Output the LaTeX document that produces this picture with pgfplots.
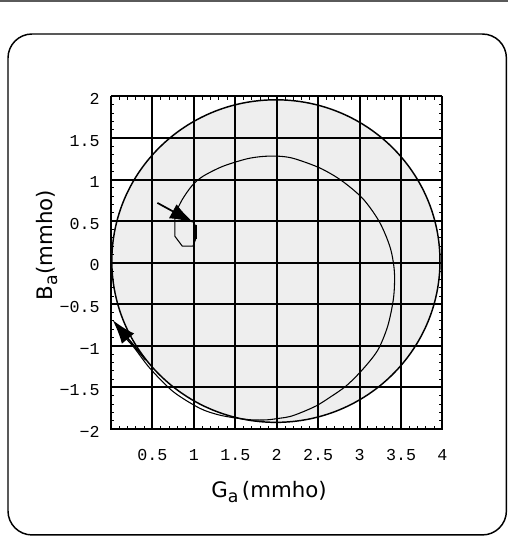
\documentclass[border=0pt]{standalone}
\usepackage{pgfplots}
\pgfplotsset{compat=1.18}
\usepackage{fontspec}
\setmainfont{DejaVu Sans}
\newfontfamily\monofont{Liberation Mono}
\usetikzlibrary{arrows.meta}

\definecolor{diskgray}{RGB}{238,238,238}
\definecolor{rulegray}{RGB}{90,90,90}

% admittance locus G_a + j B_a (mmho), outer sweep
\pgfplotstableread{
G     B
0.12 -0.85
0.27 -1.01
0.47 -1.27
0.75 -1.55
1.07 -1.75
1.30 -1.83
1.52 -1.87
1.70 -1.89
1.88 -1.89
2.04 -1.87
2.16 -1.85
2.30 -1.80
2.48 -1.72
2.64 -1.62
2.84 -1.48
3.04 -1.28
3.22 -1.05
3.34 -0.76
3.41 -0.42
3.42 -0.11
3.37  0.18
3.24  0.49
3.04  0.77
2.78  0.99
2.52  1.14
2.22  1.25
2.05  1.28
1.85  1.28
1.64  1.25
1.35  1.16
1.11  1.04
0.98  0.93
0.86  0.76
0.77  0.58
}\locus
% small closing loop
\pgfplotstableread{
G     B
0.77  0.58
0.77  0.32
0.86  0.20
0.99  0.20
1.02  0.28
1.02  0.46
}\loop

\begin{document}
\begin{tikzpicture}
\useasboundingbox (0,0) rectangle (381pt,-402.75pt);
% page rule and rounded frame
\draw[rulegray, line width=1.5pt] (0,-1.1pt) -- (381pt,-1.1pt);
\draw[black, line width=1.1pt, rounded corners=18pt] (6pt,-25.5pt) rectangle (379.8pt,-401.2pt);

\begin{axis}[
  at={(83.25pt,-321.75pt)}, anchor=south west,
  scale only axis, width=248.6pt, height=249.4pt,
  xmin=0, xmax=4, ymin=-2, ymax=2,
  axis on top,
  xtick={0,0.5,...,4},
  xticklabels={,0.5,1,1.5,2,2.5,3,3.5,4},
  ytick={-2,-1.5,...,2},
  yticklabels={−2,−1.5,−1,−0.5,0,0.5,1,1.5,2},
  minor tick num=4,
  tick align=inside,
  major tick length=0pt,
  minor tick length=2.4pt,
  every tick/.style={black, line width=0.7pt},
  grid=major,
  major grid style={black, line width=1.5pt},
  axis line style={black, line width=1.2pt},
  every tick label/.append style={font=\monofont\fontsize{12.5}{12.5}\selectfont},
  xticklabel style={anchor=center, yshift=-19.5pt},
  yticklabel style={anchor=east, xshift=-5pt, yshift=-2pt},
]
  % unit conductance disk
  \draw[fill=diskgray, draw=black, line width=1.1pt]
    (axis cs:1.99,0.02) ellipse [x radius=1.98, y radius=1.94];
  \addplot[black, line width=0.8pt, smooth, tension=0.5] table[x=G, y=B] {\locus};
  \addplot[black, line width=0.8pt] table[x=G, y=B] {\loop};
  \addplot[black, line width=1.8pt] coordinates {(1.02,0.28) (1.02,0.46)};
  % direction arrows
  \addplot[black, line width=1.3pt, -{Latex[length=18pt,width=12pt]}]
    coordinates {(0.56,0.72) (1.00,0.48)};
  \addplot[black, line width=1.3pt, -{Latex[length=18pt,width=12pt]}]
    coordinates {(0.42,-1.17) (0.02,-0.69)};
\end{axis}

\node[font=\fontsize{16}{16}\selectfont] at (201.75pt,-369pt)
  {G\raisebox{-0.45ex}{\fontsize{13}{13}\selectfont a}\,(mmho)};
\node[rotate=90, font=\fontsize{16}{16}\selectfont] at (35.25pt,-183.75pt)
  {B\raisebox{-0.45ex}{\fontsize{13}{13}\selectfont a}(mmho)};
\end{tikzpicture}
\end{document}
